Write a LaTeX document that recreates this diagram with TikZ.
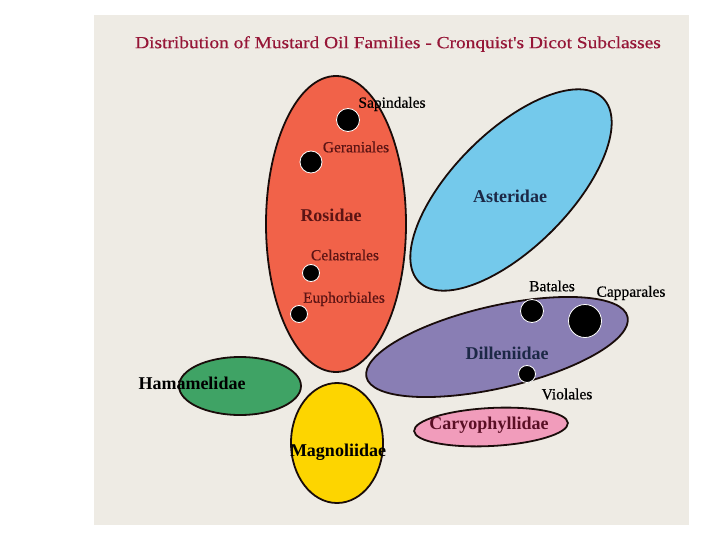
\documentclass[tikz,border=0pt]{standalone}
\usepackage{fontspec}
\setmainfont{Liberation Serif}
\newfontfamily\medfont{Liberation Serif}[FakeBold=0.5]
\definecolor{panel}{RGB}{238,235,228}
\definecolor{outl}{RGB}{25,12,10}
\definecolor{rosid}{RGB}{241,98,73}
\definecolor{aster}{RGB}{116,201,235}
\definecolor{dillen}{RGB}{137,126,180}
\definecolor{hamam}{RGB}{63,163,101}
\definecolor{magno}{RGB}{253,213,0}
\definecolor{caryo}{RGB}{241,156,187}
\definecolor{titlec}{RGB}{150,22,55}
\definecolor{darkred}{RGB}{92,20,20}
\definecolor{navy}{RGB}{28,40,70}
\definecolor{maroon}{RGB}{90,15,37}
\begin{document}
\begin{tikzpicture}[x=1pt,y=-1pt,
  blob/.style={draw=outl, line width=1.8pt},
  dot/.style={fill=black, draw=white, line width=0.8pt},
  ord/.style={font=\medfont\fontsize{15.5}{17}\selectfont, inner sep=0pt},
  sub/.style={font=\fontsize{18}{20}\selectfont\bfseries, inner sep=0pt}]
\useasboundingbox (0,0) rectangle (720,540);
\fill[white] (0,0) rectangle (720,540);
\fill[panel] (94,15) rectangle (689,525);
% title
\node[inner sep=0pt, text=titlec, font=\medfont\fontsize{17}{19}\selectfont] (title) at (398,44) {\scalebox{1.14}[1]{Distribution of Mustard Oil Families - Cronquist's Dicot Subclasses}};
% subclasses
\draw[blob, fill=rosid] (336,224) ellipse [x radius=70pt, y radius=148pt];
\draw[blob, fill=aster, rotate around={45:(511,190)}] (511,190) ellipse [x radius=130pt, y radius=58pt];
\draw[blob, fill=dillen, rotate around={13:(497,347)}] (497,347) ellipse [x radius=134pt, y radius=41pt];
\draw[blob, fill=hamam] (240,386) ellipse [x radius=61pt, y radius=29pt];
\draw[blob, fill=magno] (337,443) ellipse [x radius=46pt, y radius=60pt];
\draw[blob, fill=caryo, rotate around={3:(491,427)}] (491,427) ellipse [x radius=77pt, y radius=19pt];
% dots
\filldraw[dot] (348,120) circle [radius=11.5pt];
\filldraw[dot] (311,162) circle [radius=11pt];
\filldraw[dot] (311,273) circle [radius=8.5pt];
\filldraw[dot] (299,314) circle [radius=8.5pt];
\filldraw[dot] (532,311) circle [radius=11.5pt];
\filldraw[dot] (585,321) circle [radius=16.5pt];
\filldraw[dot] (527,374) circle [radius=8.5pt];
% labels
\node[ord, text=black] (sapl) at (392,104) {Sapindales};
\node[ord, text=darkred] (gerl) at (356,147) {Geraniales};
\node[sub, text=darkred] (rosl) at (331,215) {Rosidae};
\node[ord, text=darkred] (cell) at (345,255) {Celastrales};
\node[ord, text=darkred] (eupl) at (344,299) {Euphorbiales};
\node[sub, text=navy] (astl) at (510,196) {Asteridae};
\node[ord, text=black] (batl) at (552,286) {Batales};
\node[ord, text=black] (capl) at (631,293) {Capparales};
\node[sub, text=navy] (dill) at (507,353) {Dilleniidae};
\node[ord, text=black] (viol) at (567,394) {Violales};
\node[sub, text=black] (haml) at (192,383) {Hamamelidae};
\node[sub, text=black] (magl) at (338,452) {Magnoliidae};
\node[sub, text=maroon] (carl) at (489,425) {Caryophyllidae};
\end{tikzpicture}
\end{document}
